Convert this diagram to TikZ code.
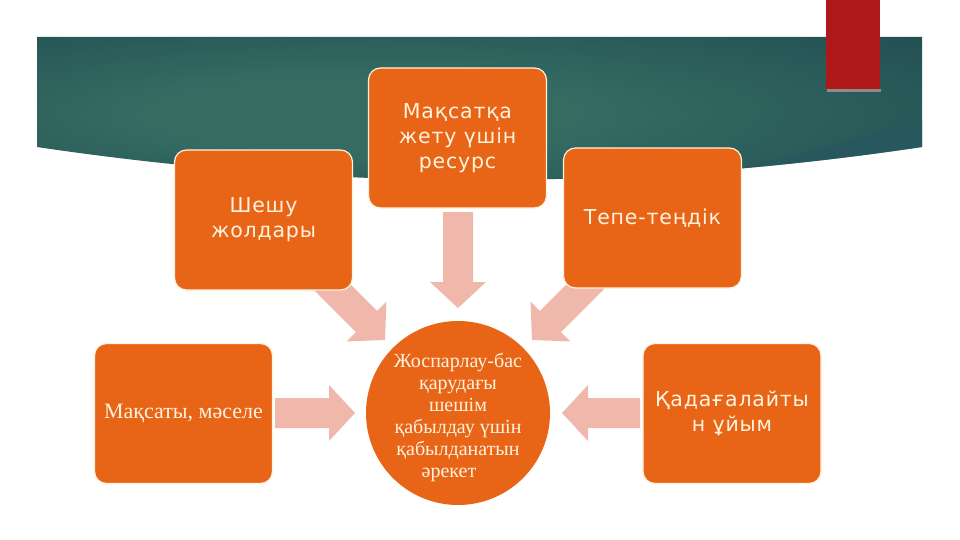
\documentclass[tikz,border=0pt]{standalone}
\usepackage{fontspec}
\newfontfamily\boxfont[LetterSpace=4]{DejaVu Sans}
\newfontfamily\serifkz{Liberation Serif}
\definecolor{orangebox}{RGB}{232,101,24}
\definecolor{pinkarrow}{RGB}{239,184,170}
\definecolor{creamtext}{RGB}{255,243,222}
\definecolor{bannerlight}{RGB}{52,108,98}
\definecolor{bannerdark}{RGB}{20,54,70}
\definecolor{bannerband}{RGB}{40,88,96}
\definecolor{redbar}{RGB}{174,24,24}
\pgfdeclareradialshading{bannershade}{\pgfpoint{-8bp}{0bp}}{color(0bp)=(bannerlight); color(12bp)=(bannerlight); color(62bp)=(bannerdark); color(80bp)=(bannerdark)}
\tikzset{
  box/.style={fill=orangebox, draw=creamtext, line width=1.2pt, rounded corners=12pt,
    minimum width=178pt, minimum height=140pt, align=center, text=creamtext,
    font=\boxfont\fontsize{20.5}{25}\selectfont, inner sep=4pt},
  hub/.style={circle, fill=orangebox, minimum size=184pt, inner sep=0pt},
  hubtext/.style={align=center, text=creamtext, inner sep=0pt,
    font=\serifkz\fontsize{20}{22}\selectfont},
  arrowfill/.style={fill=pinkarrow}
}
\newcommand{\blockarrow}[3]{%
  \fill[arrowfill, shift={(#1)}, rotate=#2] (0,0) -- (-26,28) -- (-26,15) -- (-#3,15)
    -- (-#3,-15) -- (-26,-15) -- (-26,-28) -- cycle;}
\begin{document}
\begin{tikzpicture}[x=1pt, y=-1pt]
\useasboundingbox (0,0) rectangle (960,540);
\fill[white] (0,0) rectangle (960,540);
% banner
\shade[shading=bannershade] (37,37) -- (922,37) -- (922,147)
  .. controls (627,191) and (333,191) .. (37,147) -- cycle;
\begin{scope}
  \clip (37,37) -- (922,37) -- (922,147)
    .. controls (627,191) and (333,191) .. (37,147) -- cycle;
  \fill[bannerband, opacity=0.7] (922,120) .. controls (860,136) and (800,154) .. (700,178)
    -- (960,200) -- (960,110) -- cycle;
\end{scope}
% red bar
\fill[black!45] (827,89) rectangle (881,92);
\fill[redbar] (826,0) rectangle (880,89);
% arrow tips
\coordinate (tipT) at (458,308);
\coordinate (tipUL) at (385,340);
\coordinate (tipUR) at (532,340);
\coordinate (tipL) at (355,413);
\coordinate (tipR) at (562,413);
\blockarrow{tipT}{-90}{96}
\blockarrow{tipUL}{-45}{100}
\blockarrow{tipUR}{-135}{100}
\blockarrow{tipL}{0}{80}
\blockarrow{tipR}{180}{78}
% boxes
\node[box] (res) at (457.5,138) {Мақсатқа\\жету үшін\\ресурс};
\node[box] (way) at (263.5,220) {Шешу\\жолдары};
\node[box] (bal) at (652.5,218) {Тепе-теңдік};
\node[box, font=\serifkz\fontsize{22}{25}\selectfont] (goal) at (183.5,413.5) {Мақсаты, мәселе};
\node[box] (org) at (732,413.5) {Қадағалайты\\н ұйым};
\node[hub] (c) at (458,413) {};
\node[hubtext] (ct) at (458,417) {Жоспарлау-бас\\қарудағы\\шешім\\қабылдау үшін\\қабылданатын\\әрекет\hspace*{0.9em}};
\end{tikzpicture}
\end{document}
